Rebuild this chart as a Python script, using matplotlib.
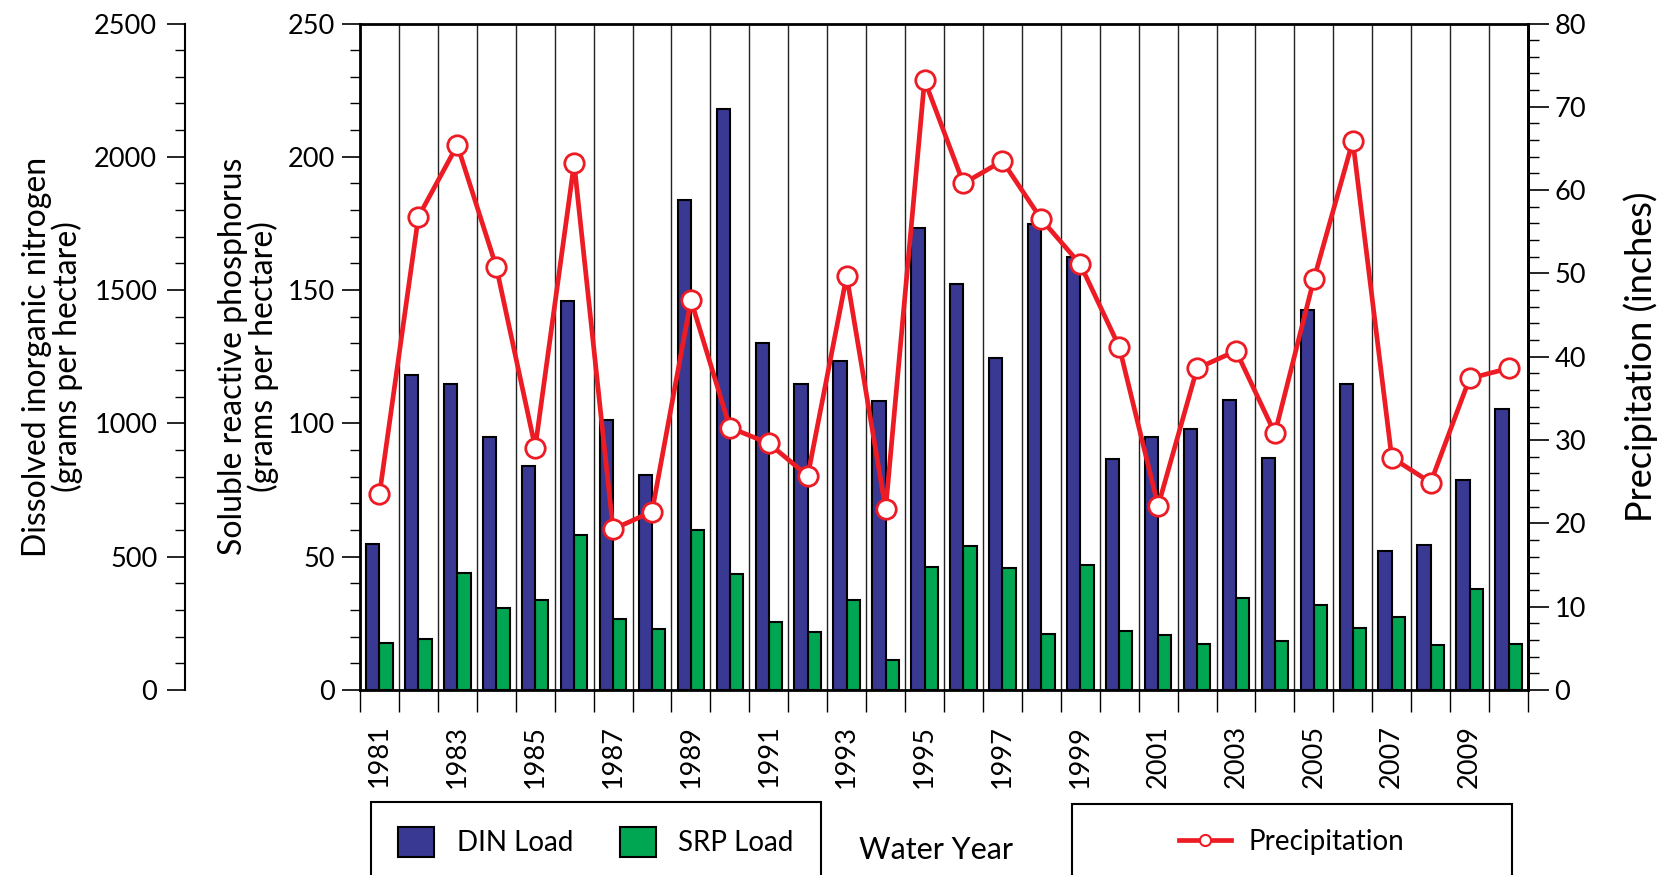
import matplotlib.pyplot as plt
from matplotlib.lines import Line2D
from matplotlib.patches import Patch, Rectangle
from matplotlib.ticker import MultipleLocator

plt.rcParams['font.family'] = ['Lato', 'DejaVu Sans']

# water years 1981-2010
years = list(range(1981, 2011))
din_load = [548, 1181, 1147, 950, 841, 1460, 1013, 808, 1839, 2179,
            1303, 1147, 1234, 1084, 1732, 1523, 1246, 1747, 1624, 866,
            950, 980, 1087, 871, 1426, 1147, 523, 543, 788, 1055]
srp_load = [17.6, 19.2, 44.0, 30.9, 33.9, 58.0, 26.8, 22.9, 60.2, 43.5,
            25.6, 21.7, 33.9, 11.4, 46.2, 54.0, 45.7, 20.9, 46.8, 22.2,
            20.6, 17.1, 34.4, 18.4, 31.8, 23.1, 27.3, 16.7, 37.8, 17.1]
precip = [23.5, 56.8, 65.4, 50.8, 29.1, 63.2, 19.3, 21.4, 46.8, 31.5,
          29.6, 25.7, 49.7, 21.7, 73.2, 60.8, 63.5, 56.5, 51.1, 41.2,
          22.1, 38.6, 40.7, 30.8, 49.3, 65.9, 27.9, 24.9, 37.4, 38.6]
label_years = [str(y) for y in range(1981, 2011, 2)]

blue = '#393893'
green = '#00A651'
red = '#ED1C24'
fs = 19.5
W, H = 1672, 875

fig = plt.figure(figsize=(16.72, 8.75), dpi=100)
ax = fig.add_axes([360/W, 1-690/H, 1168/W, (690-23.5)/H])

# SRP axis (main)
ax.set_xlim(1980.5, 2010.5)
ax.set_ylim(0, 250)
ax.bar([y + 0.17 for y in years], srp_load, width=0.34, color=green,
       edgecolor='black', linewidth=1.5, zorder=3)
ax.set_xticks([y - 0.5 for y in years] + [2010.5])
ax.set_xticklabels([])
ax.set_xticks(list(range(1981, 2011, 2)), minor=True)
ax.set_xticklabels(label_years, minor=True, rotation=90, fontsize=fs)
ax.tick_params(axis='x', which='major', direction='out', length=16, width=1)
ax.tick_params(axis='x', which='minor', length=0, pad=25)
ax.grid(axis='x', which='major', color='#222222', linewidth=1, zorder=0)
ax.yaxis.set_major_locator(MultipleLocator(50))
ax.yaxis.set_minor_locator(MultipleLocator(10))
ax.tick_params(axis='y', which='major', direction='out', length=13, width=1.2,
               labelsize=fs, pad=5)
ax.tick_params(axis='y', which='minor', direction='out', length=7, width=1)
for s in ax.spines.values():
    s.set_linewidth(2)
ax.set_ylabel('Soluble reactive phosphorus\n(grams per hectare)', fontsize=23,
              labelpad=6, linespacing=1.0)

# DIN axis
ax_din = ax.twinx()
ax_din.set_ylim(0, 2500)
ax_din.bar([y - 0.17 for y in years], din_load, width=0.34, color=blue,
           edgecolor='black', linewidth=1.5, zorder=3)
ax_din.spines['left'].set_position(('axes', (185 - 360) / 1168))
ax_din.spines['left'].set_visible(True)
ax_din.spines['left'].set_linewidth(1.5)
ax_din.spines['left'].set_bounds(0, 2500)
for side in ['right', 'top', 'bottom']:
    ax_din.spines[side].set_visible(False)
ax_din.yaxis.set_label_position('left')
ax_din.yaxis.set_ticks_position('left')
ax_din.yaxis.set_major_locator(MultipleLocator(500))
ax_din.yaxis.set_minor_locator(MultipleLocator(100))
ax_din.tick_params(axis='y', which='major', direction='out', length=13, width=1.2,
                   labelsize=fs, pad=7)
ax_din.tick_params(axis='y', which='minor', direction='out', length=7, width=1)
ax_din.set_ylabel('Dissolved inorganic nitrogen\n(grams per hectare)', fontsize=23,
                  labelpad=8, linespacing=1.0)

# precipitation axis
ax_p = ax.twinx()
ax_p.set_ylim(0, 80)
ax_p.plot(years, precip, color=red, linewidth=3.4, marker='o', markersize=14,
          markerfacecolor='white', markeredgecolor=red, markeredgewidth=2, zorder=5)
for side in ['left', 'top', 'bottom']:
    ax_p.spines[side].set_visible(False)
ax_p.spines['right'].set_linewidth(2)
ax_p.yaxis.set_major_locator(MultipleLocator(10))
ax_p.yaxis.set_minor_locator(MultipleLocator(2))
ax_p.tick_params(axis='y', which='major', direction='out', length=15, width=1.2,
                 labelsize=fs, pad=4)
ax_p.tick_params(axis='y', which='minor', direction='out', length=8, width=1)
ax_p.set_ylabel('Precipitation (inches)', fontsize=26, labelpad=27)

# legend boxes (run off the bottom edge, as in the original)
for x0, x1, top in [(371, 821, 802), (1072, 1512, 804)]:
    fig.patches.append(Rectangle((x0/W, -0.05), (x1-x0)/W, 1-top/H+0.05,
                                 transform=fig.transFigure, fill=False,
                                 edgecolor='black', linewidth=1.5))

h_bars = [Patch(facecolor=blue, edgecolor='black', linewidth=1.5, label='DIN Load'),
          Patch(facecolor=green, edgecolor='black', linewidth=1.5, label='SRP Load')]
fig.legend(handles=h_bars, loc='center', bbox_to_anchor=(596/W, 1-842/H),
           ncol=2, fontsize=20, frameon=False, handlelength=1.3, handleheight=1.3,
           handletextpad=0.8, columnspacing=1.7, borderaxespad=0)

h_line = [Line2D([0], [0], color=red, linewidth=3.4, marker='o', markersize=8,
                 markerfacecolor='white', markeredgecolor=red, markeredgewidth=1.5,
                 label='Precipitation')]
fig.legend(handles=h_line, loc='center', bbox_to_anchor=(1292/W, 1-842/H),
           fontsize=20, frameon=False, handlelength=1.85, handletextpad=0.65,
           borderaxespad=0)

fig.text(936/W, 1-850/H, 'Water Year', fontsize=22, ha='center', va='center')

fig.savefig('out.png', dpi=100)
